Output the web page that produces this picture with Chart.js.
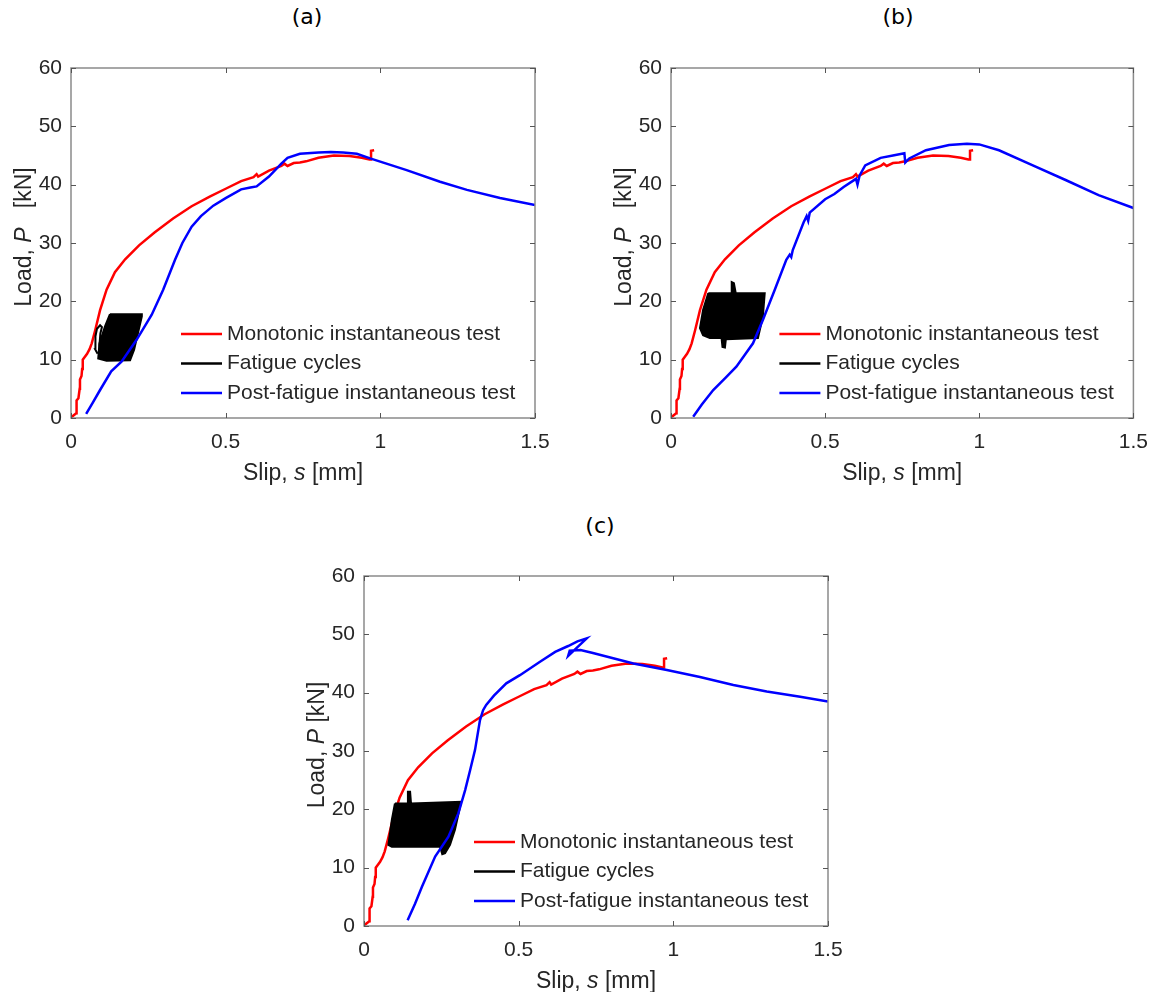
<!DOCTYPE html>
<html>
<head>
<meta charset="utf-8">
<script src="https://cdn.jsdelivr.net/npm/chart.js@4.4.1/dist/chart.umd.min.js"></script>
<style>
  body { margin: 0; background: #fff; width: 1160px; height: 992px; position: relative; overflow: hidden; }
  canvas { position: absolute; }
  .ptitle { position: absolute; font-family: "DejaVu Sans", sans-serif; font-size: 22px; color: #000; transform: translateX(-50%); }
</style>
</head>
<body>
<div class="ptitle" style="left:307px; top:4px;">(a)</div>
<div class="ptitle" style="left:898px; top:4px;">(b)</div>
<div class="ptitle" style="left:600px; top:513px;">(c)</div>
<canvas id="chartA" width="580" height="470" style="left:0px; top:40px;"></canvas>
<canvas id="chartB" width="560" height="470" style="left:600px; top:40px;"></canvas>
<canvas id="chartC" width="580" height="444" style="left:293px; top:548px;"></canvas>
<script>
// ticks
const xTickVals = [0, 0.5, 1, 1.5];
const yTickVals = [0, 10, 20, 30, 40, 50, 60];
const legendLabels = ['Monotonic instantaneous test', 'Fatigue cycles', 'Post-fatigue instantaneous test'];

// monotonic test (same curve in the three panels)
const monoSlip = [0, 0.005, 0.017, 0.018, 0.024, 0.028, 0.029, 0.034, 0.036, 0.038, 0.045, 0.052, 0.06, 0.067, 0.078, 0.094, 0.115, 0.142, 0.175, 0.22, 0.27, 0.33, 0.39, 0.45, 0.5, 0.55, 0.59, 0.6, 0.605, 0.64, 0.68, 0.69, 0.7, 0.72, 0.74, 0.76, 0.8, 0.85, 0.9, 0.94, 0.965, 0.97, 0.97, 0.98];
const monoLoad = [0, 0.3, 0.8, 3.0, 3.4, 5.0, 6.6, 7.2, 8.4, 10.0, 10.5, 11.0, 11.8, 12.8, 15.0, 18.5, 22.0, 25.0, 27.2, 29.6, 31.8, 34.2, 36.3, 38.0, 39.3, 40.6, 41.3, 41.8, 41.4, 42.4, 43.2, 43.6, 43.2, 43.7, 43.8, 44.0, 44.6, 45.0, 44.9, 44.6, 44.3, 44.3, 45.8, 45.9];

// (a)
const postSlipA = [0.049, 0.07, 0.094, 0.13, 0.164, 0.212, 0.261, 0.298, 0.336, 0.36, 0.39, 0.42, 0.46, 0.5, 0.55, 0.58, 0.6, 0.64, 0.68, 0.7, 0.74, 0.8, 0.84, 0.88, 0.924, 0.967, 1.085, 1.193, 1.28, 1.387, 1.5];
const postLoadA = [0.7, 2.6, 4.8, 8.0, 9.7, 13.4, 17.7, 22.0, 27.1, 30.0, 32.8, 34.6, 36.4, 37.7, 39.2, 39.5, 39.7, 41.4, 43.6, 44.6, 45.3, 45.5, 45.6, 45.5, 45.3, 44.5, 42.5, 40.5, 39.1, 37.7, 36.5];
const fatSlipA = [0.126, 0.229, 0.229, 0.204, 0.191, 0.115, 0.088, 0.092, 0.11, 0.126];
const fatLoadA = [17.8, 17.8, 17.4, 11.7, 9.9, 9.8, 10.2, 12.8, 15.7, 17.8];
const loopSlipA = [0.086, 0.078, 0.079, 0.084, 0.094, 0.1, 0.095, 0.092, 0.094];
const loopLoadA = [11.0, 11.8, 14.0, 15.3, 15.9, 15.6, 14.5, 12.5, 11.0];

// (b)
const postSlipB = [0.072, 0.1, 0.137, 0.175, 0.212, 0.266, 0.298, 0.336, 0.374, 0.385, 0.39, 0.395, 0.43, 0.44, 0.445, 0.45, 0.5, 0.53, 0.56, 0.6, 0.605, 0.612, 0.63, 0.68, 0.72, 0.757, 0.76, 0.773, 0.827, 0.902, 0.96, 1.0, 1.064, 1.17, 1.28, 1.387, 1.5];
const postLoadB = [0.2, 2.3, 4.8, 6.8, 8.8, 12.8, 16.8, 21.9, 27.1, 28.0, 27.6, 28.8, 33.5, 34.6, 33.8, 35.2, 37.5, 38.4, 39.6, 41.0, 40.0, 41.6, 43.3, 44.6, 45.0, 45.4, 43.8, 44.5, 45.9, 46.8, 47.0, 46.9, 45.9, 43.4, 40.8, 38.2, 36.0];
const fatSlipB = [0.121, 0.104, 0.094, 0.104, 0.126, 0.164, 0.167, 0.175, 0.178, 0.282, 0.298, 0.304, 0.21, 0.204, 0.197, 0.197, 0.121];
const fatLoadB = [21.4, 18.5, 15.4, 14.2, 13.7, 13.7, 12.2, 12.1, 13.5, 13.7, 17.4, 21.4, 21.4, 23.1, 23.3, 21.4, 21.4];

// (c)
const postSlipC = [0.141, 0.165, 0.187, 0.23, 0.273, 0.305, 0.327, 0.343, 0.359, 0.375, 0.385, 0.395, 0.42, 0.46, 0.504, 0.569, 0.618, 0.66, 0.69, 0.72, 0.66, 0.665, 0.7, 0.74, 0.871, 0.979, 1.086, 1.194, 1.302, 1.41, 1.5];
const postLoadC = [1.0, 3.8, 6.7, 11.9, 15.3, 19.3, 23.3, 26.7, 30.2, 35.3, 37.0, 37.9, 39.5, 41.6, 43.0, 45.3, 47.0, 48.0, 48.8, 49.3, 46.3, 47.2, 47.3, 46.8, 45.0, 43.9, 42.7, 41.3, 40.2, 39.3, 38.5];
const fatSlipC = [0.1, 0.09, 0.079, 0.09, 0.246, 0.253, 0.262, 0.278, 0.294, 0.314, 0.152, 0.149, 0.142, 0.142, 0.1];
const fatLoadC = [21.0, 18.2, 13.9, 13.6, 13.6, 12.3, 12.5, 13.9, 16.5, 21.3, 21.0, 23.0, 23.0, 21.0, 21.0];

const RED = '#ff0000', BLACK = '#000000', BLUE = '#0000ff';
const TXT = '#262626';
const FONT = '"Liberation Sans", Arial, sans-serif';

function pts(xs, ys) {
    return xs.map((v, i) => ({ x: v, y: ys[i] }));
}

// write a label made of normal and italic parts, centred on (0,0)
function drawParts(ctx, parts, size) {
    let total = 0;
    parts.forEach(p => {
        ctx.font = (p[1] ? 'italic ' : '') + size + 'px ' + FONT;
        total += ctx.measureText(p[0]).width;
    });
    let x = -total / 2;
    parts.forEach(p => {
        ctx.font = (p[1] ? 'italic ' : '') + size + 'px ' + FONT;
        ctx.fillText(p[0], x, 0);
        x += ctx.measureText(p[0]).width;
    });
}

const decoPlugin = {
    id: 'deco',
    afterDraw(chart, args, opts) {
        const ctx = chart.ctx;
        const a = chart.chartArea;
        const xs = chart.scales.x, ys = chart.scales.y;
        ctx.save();

        // box and inward ticks
        ctx.strokeStyle = '#8a8a8a';
        ctx.lineWidth = 1.5;
        ctx.strokeRect(a.left, a.top, a.right - a.left, a.bottom - a.top);
        ctx.lineWidth = 1;
        ctx.strokeStyle = '#555';
        ctx.beginPath();
        xTickVals.forEach(v => {
            const px = Math.round(xs.getPixelForValue(v)) + 0.5;
            ctx.moveTo(px, a.bottom); ctx.lineTo(px, a.bottom - 5);
            ctx.moveTo(px, a.top); ctx.lineTo(px, a.top + 5);
        });
        yTickVals.forEach(v => {
            const py = Math.round(ys.getPixelForValue(v)) + 0.5;
            ctx.moveTo(a.left, py); ctx.lineTo(a.left + 5, py);
            ctx.moveTo(a.right, py); ctx.lineTo(a.right - 5, py);
        });
        ctx.stroke();

        // legend, inside the axes at lower right
        const cols = [RED, BLACK, BLUE];
        const rows = [84, 54.5, 25];
        ctx.font = '21px ' + FONT;
        ctx.textBaseline = 'middle';
        ctx.textAlign = 'left';
        legendLabels.forEach((lab, i) => {
            const yy = a.bottom - rows[i];
            ctx.strokeStyle = cols[i];
            ctx.lineWidth = 2.5;
            ctx.beginPath();
            ctx.moveTo(a.right - 354, yy);
            ctx.lineTo(a.right - 313, yy);
            ctx.stroke();
            ctx.fillStyle = TXT;
            ctx.fillText(lab, a.right - 308, yy);
        });

        // axis titles
        ctx.fillStyle = TXT;
        ctx.textAlign = 'left';
        ctx.save();
        ctx.translate((a.left + a.right) / 2, a.bottom + 56);
        drawParts(ctx, [['Slip, ', false], ['s', true], [' [mm]', false]], 23);
        ctx.restore();
        ctx.save();
        ctx.translate(a.left - 46, (a.top + a.bottom) / 2 - 6);
        ctx.rotate(-Math.PI / 2);
        drawParts(ctx, [['Load, ', false], ['P', true], [opts.yGap + '[kN]', false]], 23);
        ctx.restore();

        ctx.restore();
    }
};

function makePanel(id, p) {
    const datasets = [
        {
            label: legendLabels[2],
            data: pts(p.postS, p.postP),
            borderColor: BLUE, borderWidth: 2.5, showLine: true, pointRadius: 0, order: 1
        },
        {
            label: legendLabels[1],
            data: pts(p.fatS, p.fatP),
            borderColor: BLACK, backgroundColor: BLACK, borderWidth: 2, showLine: true,
            pointRadius: 0, fill: 'shape', order: 2
        },
        {
            label: legendLabels[0],
            data: pts(monoSlip, monoLoad),
            borderColor: RED, borderWidth: 2.5, showLine: true, pointRadius: 0, order: 3
        }
    ];
    if (p.loopS) {
        datasets.push({
            label: 'loop',
            data: pts(p.loopS, p.loopP),
            borderColor: BLACK, borderWidth: 2, showLine: true, pointRadius: 0, order: 2
        });
    }
    new Chart(document.getElementById(id), {
        type: 'scatter',
        data: { datasets: datasets },
        plugins: [decoPlugin],
        options: {
            responsive: false,
            animation: false,
            layout: { padding: { top: p.padTop, right: p.padRight, left: 0, bottom: 0 } },
            plugins: {
                legend: { display: false },
                tooltip: { enabled: false },
                deco: { yGap: p.yGap }
            },
            scales: {
                x: {
                    type: 'linear', min: 0, max: 1.5,
                    grid: { display: false, drawTicks: false, tickLength: 0 },
                    border: { display: false },
                    afterBuildTicks: s => { s.ticks = xTickVals.map(v => ({ value: v })); },
                    afterFit: s => { s.height = p.xAxisH; },
                    ticks: {
                        autoSkip: false, maxRotation: 0, padding: 12, color: TXT,
                        font: { family: FONT, size: 21 },
                        callback: v => String(v)
                    }
                },
                y: {
                    type: 'linear', min: 0, max: 60,
                    grid: { display: false, drawTicks: false, tickLength: 0 },
                    border: { display: false },
                    afterBuildTicks: s => { s.ticks = yTickVals.map(v => ({ value: v })); },
                    afterFit: s => { s.width = 71; },
                    ticks: {
                        autoSkip: false, padding: 9, color: TXT,
                        font: { family: FONT, size: 21 },
                        callback: v => String(v)
                    }
                }
            }
        }
    });
}

makePanel('chartA', {
    postS: postSlipA, postP: postLoadA, fatS: fatSlipA, fatP: fatLoadA,
    loopS: loopSlipA, loopP: loopLoadA,
    padTop: 28, padRight: 45, xAxisH: 92, yGap: '   '
});
makePanel('chartB', {
    postS: postSlipB, postP: postLoadB, fatS: fatSlipB, fatP: fatLoadB,
    padTop: 28, padRight: 25, xAxisH: 92, yGap: '   '
});
makePanel('chartC', {
    postS: postSlipC, postP: postLoadC, fatS: fatSlipC, fatP: fatLoadC,
    padTop: 28, padRight: 45, xAxisH: 66, yGap: ' '
});
</script>
</body>
</html>
